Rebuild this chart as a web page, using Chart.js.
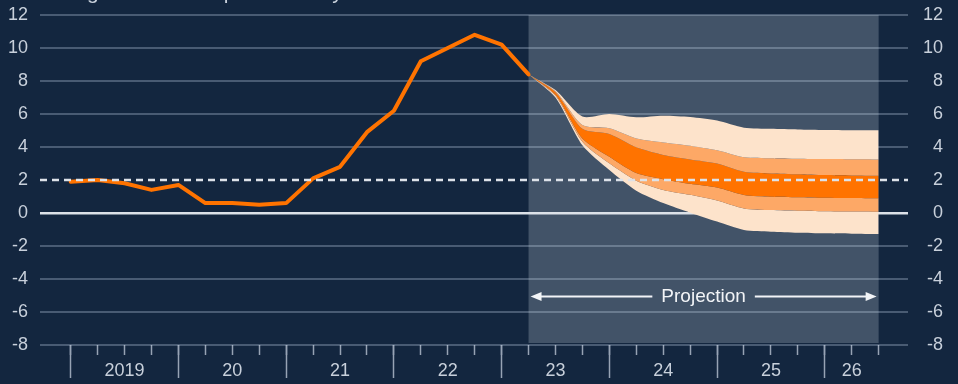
<!DOCTYPE html>
<html><head><meta charset="utf-8">
<script src="https://cdn.jsdelivr.net/npm/chart.js@4.4.0/dist/chart.umd.min.js"></script>
<style>html,body{margin:0;padding:0;background:#13263f;overflow:hidden}</style>
</head><body>
<canvas id="c" width="958" height="384" style="display:block;width:958px;height:384px"></canvas>
<script>
// ---- data (quarter index 0 = 2019 Q1) ----
const actualQuarters = [0,1,2,3,4,5,6,7,8,9,10,11,12,13,14,15,16,17];
const cpiActual = [1.9,2.0,1.8,1.4,1.7,0.6,0.6,0.5,0.6,2.1,2.8,4.9,6.2,9.2,10.0,10.8,10.2,8.4];

const fanQuarters = [17,18,19,20,21,22,23,24,25,26,27,28,29,30];
const fanOuterTop  = [8.4,7.45,5.85,6.0,5.8,5.9,5.82,5.6,5.17,5.1,5.06,5.03,5.02,5.02];
const fanMidTop    = [8.4,7.38,5.33,5.13,4.52,4.28,4.08,3.8,3.38,3.32,3.29,3.27,3.26,3.25];
const fanInnerTop  = [8.4,7.32,5.1,4.79,3.98,3.52,3.25,3.0,2.5,2.4,2.35,2.3,2.28,2.26];
const fanInnerBot  = [8.4,7.18,4.52,3.41,2.42,2.05,1.77,1.54,1.09,0.99,0.96,0.93,0.91,0.89];
const fanMidBot    = [8.4,7.1,4.32,3.01,1.96,1.4,1.1,0.76,0.28,0.18,0.14,0.11,0.09,0.08];
const fanOuterBot  = [8.4,7.0,4.1,2.6,1.35,0.6,0.02,-0.52,-1.03,-1.13,-1.19,-1.23,-1.25,-1.27];

const inflationTarget = 2;
const projectionRange = [17,30];
const projectionLabel = 'Projection';
const projectionLabelLevel = -5;

const yTicks = [-8,-6,-4,-2,0,2,4,6,8,10,12];
const quarterTicks = [0,1,2,3,4,5,6,7,8,9,10,11,12,13,14,15,16,17,18,19,20,21,22,23,24,25,26,27,28,29,30];
const yearStartQuarters = [0,4,8,12,16,20,24,28];
const yearLabels = ['2019','20','21','22','23','24','25','26'];
const yearLabelQuarters = [2,6,10,14,18,22,26,29];
const xAxisMin = -1.14, xAxisMax = 31.09;
const titleText = 'Percentage increase in prices on a year earlier';

// ---- styles ----
const BG = '#13263f', SHADE = '#425368';
const C_LIGHT = '#fde3cb', C_MID = '#fda866', C_DARK = '#ff7300';
const TXT = '#c8d0db', FONT = '"Liberation Sans", Arial, sans-serif';

const pts = (xs, ys) => xs.map((x, i) => ({x, y: ys[i]}));
const band = (ys, color, fill) => ({
  type: 'line', data: pts(fanQuarters, ys), borderWidth: 0, pointRadius: 0,
  backgroundColor: color, fill: fill, tension: 0.25, order: 10
});

const bgPlugin = {
  id: 'bgShade',
  beforeDraw(chart) {
    const {ctx, chartArea, scales} = chart;
    ctx.save();
    ctx.fillStyle = BG;
    ctx.fillRect(0, 0, chart.width, chart.height);
    const x0 = scales.x.getPixelForValue(projectionRange[0]);
    const x1 = scales.x.getPixelForValue(projectionRange[1]);
    ctx.fillStyle = SHADE;
    ctx.fillRect(x0, chartArea.top, x1 - x0, chartArea.bottom - chartArea.top - 2);
    ctx.restore();
  },
  afterDraw(chart) {
    const {ctx, scales} = chart;
    ctx.save();
    ctx.fillStyle = TXT;
    ctx.font = '21px ' + FONT;
    ctx.textBaseline = 'alphabetic';
    ctx.textAlign = 'left';
    ctx.fillText(titleText, 3, -1);

    // projection arrow label
    const x0 = scales.x.getPixelForValue(projectionRange[0]) + 2;
    const x1 = scales.x.getPixelForValue(projectionRange[1]) - 2;
    const y = Math.round(scales.y.getPixelForValue(projectionLabelLevel)) + 0.5;
    const xm = (x0 + x1) / 2;
    ctx.font = '19px ' + FONT;
    const tw = ctx.measureText(projectionLabel).width;
    const W = '#f2f4f7';
    ctx.fillStyle = W;
    ctx.strokeStyle = W;
    ctx.lineWidth = 2;
    ctx.textAlign = 'center';
    ctx.textBaseline = 'middle';
    ctx.fillText(projectionLabel, xm, y);
    const gap = 9, ah = 11, aw = 4.5;
    ctx.beginPath();
    ctx.moveTo(x0 + ah - 1, y); ctx.lineTo(xm - tw / 2 - gap, y);
    ctx.moveTo(xm + tw / 2 + gap, y); ctx.lineTo(x1 - ah + 1, y);
    ctx.stroke();
    ctx.beginPath();
    ctx.moveTo(x0, y); ctx.lineTo(x0 + ah, y - aw); ctx.lineTo(x0 + ah, y + aw); ctx.closePath();
    ctx.moveTo(x1, y); ctx.lineTo(x1 - ah, y - aw); ctx.lineTo(x1 - ah, y + aw); ctx.closePath();
    ctx.fill();
    ctx.restore();
  }
};

const setTicks = arr => s => { s.ticks = arr.map(v => ({value: v})); };
const fitY = w => s => { s.width = w; s.paddingTop = 0; s.paddingBottom = 0; };

new Chart(document.getElementById('c'), {
  type: 'line',
  data: {
    datasets: [
      band(fanOuterTop, C_LIGHT, '+1'),
      band(fanMidTop, C_MID, '+1'),
      band(fanInnerTop, C_DARK, '+1'),
      band(fanInnerBot, C_MID, '+1'),
      band(fanMidBot, C_LIGHT, '+1'),
      band(fanOuterBot, 'rgba(0,0,0,0)', false),
      {
        type: 'line', data: pts(actualQuarters, cpiActual), borderColor: '#ff7300',
        borderWidth: 4, pointRadius: 0, tension: 0, fill: false, order: 2,
        borderJoinStyle: 'round', borderCapStyle: 'round'
      },
      {
        type: 'line', data: [{x: xAxisMin, y: inflationTarget}, {x: xAxisMax, y: inflationTarget}],
        borderColor: '#dde2e9', borderWidth: 2.5, borderDash: [7, 5], pointRadius: 0, fill: false, order: 0
      }
    ]
  },
  options: {
    responsive: false, animation: false,
    layout: {padding: {top: 15, right: 15, left: 0, bottom: 0}},
    plugins: {legend: {display: false}, tooltip: {enabled: false}},
    scales: {
      x: {
        type: 'linear', position: 'bottom', min: xAxisMin, max: xAxisMax,
        afterBuildTicks: setTicks(quarterTicks),
        afterFit: s => { s.height = 39; },
        grid: {drawOnChartArea: false, drawTicks: true, tickLength: 10, tickColor: '#97a3b4', tickWidth: 1.5},
        border: {display: false},
        ticks: {
          autoSkip: false, maxRotation: 0, minRotation: 0, padding: 5, color: TXT,
          font: {family: FONT, size: 18},
          callback: v => { const i = yearLabelQuarters.indexOf(v); return i >= 0 ? yearLabels[i] : ''; }
        }
      },
      xYears: {
        type: 'linear', axis: 'x', position: {y: -8}, min: xAxisMin, max: xAxisMax,
        afterBuildTicks: setTicks(yearStartQuarters),
        grid: {drawOnChartArea: false, drawTicks: true, tickLength: 33, tickColor: '#97a3b4', tickWidth: 1.5},
        border: {display: false},
        ticks: {display: false}
      },
      y: {
        type: 'linear', position: 'left', min: -8, max: 12,
        afterBuildTicks: setTicks(yTicks),
        afterFit: fitY(40),
        grid: {
          drawTicks: false,
          color: c => c.tick && c.tick.value === 0 ? '#dce1e8' : (c.tick && c.tick.value === inflationTarget ? 'rgba(0,0,0,0)' : 'rgba(200,215,235,0.3)'),
          lineWidth: c => c.tick && c.tick.value === 0 ? 2.5 : 2
        },
        border: {display: false},
        ticks: {color: TXT, font: {family: FONT, size: 18}, padding: 12}
      },
      y2: {
        type: 'linear', position: 'right', min: -8, max: 12,
        afterBuildTicks: setTicks(yTicks),
        afterFit: fitY(35),
        grid: {display: false, drawTicks: false},
        border: {display: false},
        ticks: {color: TXT, font: {family: FONT, size: 18}, padding: 13, crossAlign: 'far'}
      }
    }
  },
  plugins: [bgPlugin]
});
</script>
</body></html>
